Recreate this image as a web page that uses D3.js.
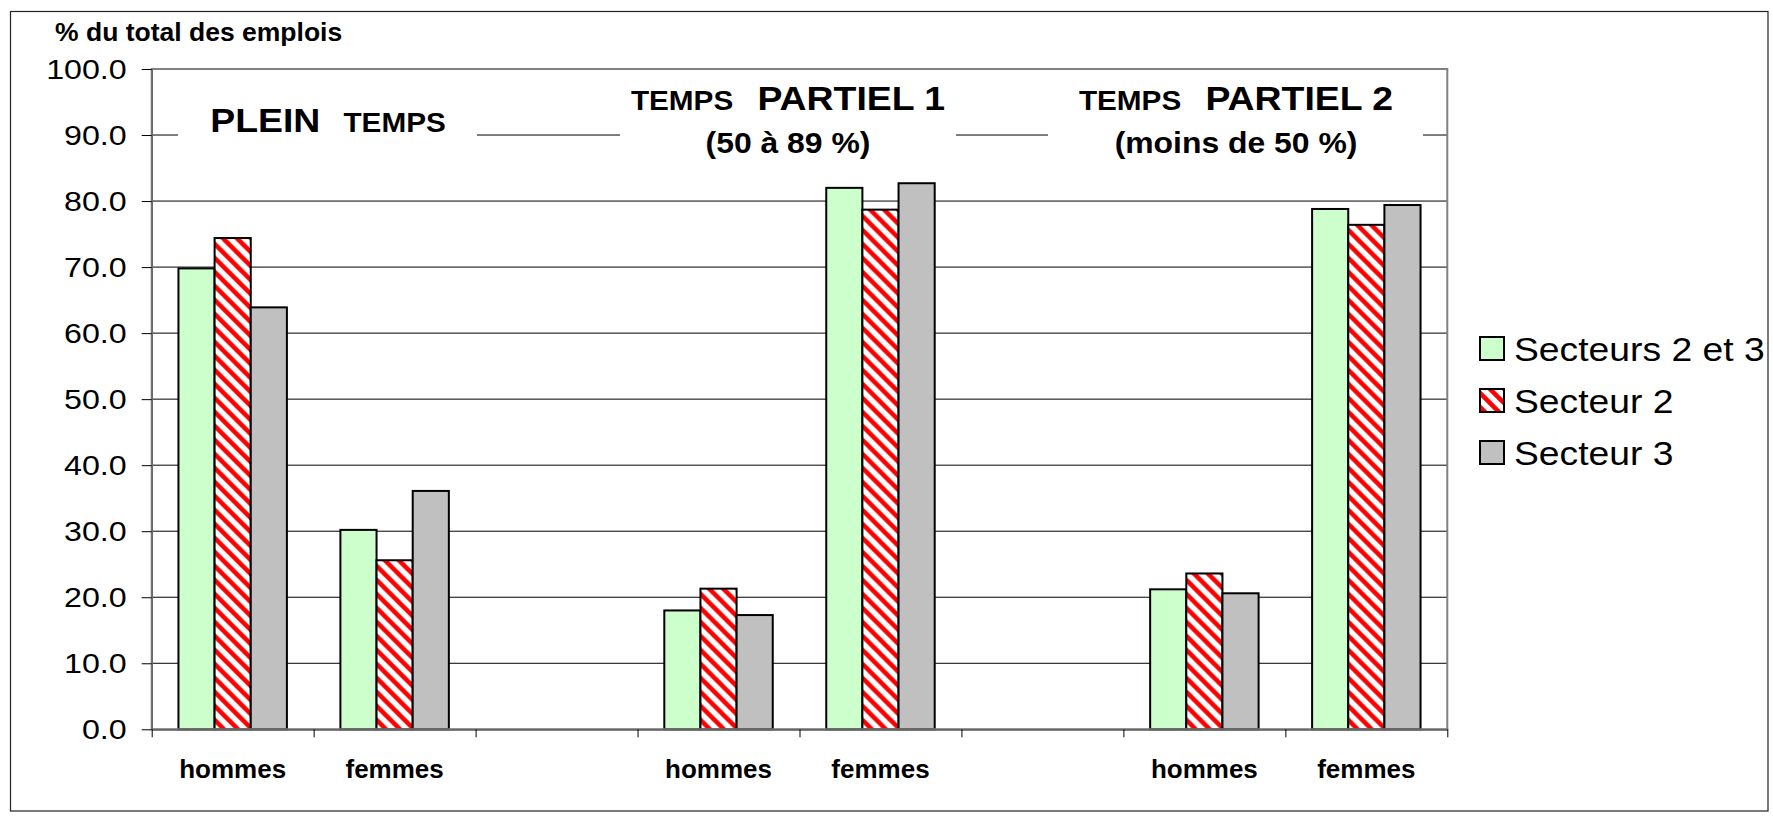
<!DOCTYPE html>
<html>
<head>
<meta charset="utf-8">
<script src="https://cdn.jsdelivr.net/npm/d3@7"></script>
<style>
  body { margin: 0; background: #fff; }
  text { font-family: "Liberation Sans", Arial, sans-serif; fill: #000; }
</style>
</head>
<body>
<div id="wrapper"></div>
<script>
// values (% du total des emplois)
const categories = ["hommes", "femmes", "", "hommes", "femmes", "", "hommes", "femmes"]
const secteurs23 = [69.8, 30.2, null, 18.0, 82.0, null, 21.2, 78.8]
const secteur2 = [74.4, 25.6, null, 21.3, 78.7, null, 23.6, 76.4]
const secteur3 = [63.9, 36.1, null, 17.3, 82.7, null, 20.6, 79.4]
const seriesNames = ["Secteurs 2 et 3", "Secteur 2", "Secteur 3"]
const yTicks = [0, 10, 20, 30, 40, 50, 60, 70, 80, 90, 100]
const gridValues = [10, 20, 30, 40, 50, 60, 70, 80, 90]

// 1. chart dimensions
let dimensions = {
  width: 1773,
  height: 818,
  margin: { top: 69, right: 325.7, bottom: 88.7, left: 151.7 },
}
dimensions.boundedWidth = dimensions.width - dimensions.margin.left - dimensions.margin.right
dimensions.boundedHeight = dimensions.height - dimensions.margin.top - dimensions.margin.bottom

const series = [secteurs23, secteur2, secteur3]
const fills = ["#CCFFCC", "url(#hatch)", "#C0C0C0"]

// 2. scales
const x0 = d3.scaleBand()
  .domain(d3.range(categories.length))
  .range([0, dimensions.boundedWidth])
  .padding(0)

const x1 = d3.scaleBand()
  .domain(d3.range(series.length))
  .range([0, x0.bandwidth()])
  .paddingInner(0)
  .paddingOuter(0.74)

const yScale = d3.scaleLinear()
  .domain([0, 100])
  .range([dimensions.boundedHeight, 0])

// 3. svg
const wrapper = d3.select("#wrapper")
  .append("svg")
    .attr("width", dimensions.width)
    .attr("height", dimensions.height)

const defs = wrapper.append("defs")
const pat = defs.append("pattern")
  .attr("id", "hatch")
  .attr("patternUnits", "userSpaceOnUse")
  .attr("width", 14)
  .attr("height", 14)
pat.append("rect").attr("width", 14).attr("height", 14).attr("fill", "#fff")
pat.append("path")
  .attr("d", "M-2,-2L16,16M-7,7L7,21M7,-7L21,7")
  .attr("stroke", "#FF0000")
  .attr("stroke-width", 4.5)

// outer frame
wrapper.append("rect")
  .attr("x", 10.5).attr("y", 11.5)
  .attr("width", 1757.5).attr("height", 799.5)
  .attr("fill", "none")
  .attr("stroke", "#222")
  .attr("stroke-width", 1.2)

// helper for (slightly widened) text
function addText(parent, str, x, y, size, weight, anchor, sx) {
  return parent.append("text")
    .attr("transform", `translate(${x},${y}) scale(${sx},1)`)
    .attr("text-anchor", anchor)
    .style("font-size", size + "px")
    .style("font-weight", weight)
    .text(str)
}

addText(wrapper, "% du total des emplois", 55, 41, 26, "bold", "start", 1.02)

const bounds = wrapper.append("g")
  .style("transform", `translate(${dimensions.margin.left}px, ${dimensions.margin.top}px)`)

// gridlines
bounds.append("g")
  .selectAll("line")
  .data(gridValues)
  .join("line")
    .attr("x1", 0)
    .attr("x2", dimensions.boundedWidth)
    .attr("y1", d => yScale(d))
    .attr("y2", d => yScale(d))
    .attr("stroke", "#000")
    .attr("stroke-width", 1)

// panel titles (white boxes cut the 90 gridline)
const titleG = bounds.append("g")
const boxes = [
  { x: 178, w: 299, cx: 328, y1: 132, big1: "PLEIN", small1: "TEMPS", smallFirst: false, line2: "" },
  { x: 620, w: 336, cx: 788, y1: 110, big1: "PARTIEL 1", small1: "TEMPS", smallFirst: true, line2: "(50 à 89 %)" },
  { x: 1048, w: 375, cx: 1236, y1: 110, big1: "PARTIEL 2", small1: "TEMPS", smallFirst: true, line2: "(moins de 50 %)" },
]
boxes.forEach(b => {
  titleG.append("rect")
    .attr("x", b.x - dimensions.margin.left)
    .attr("y", 78 - dimensions.margin.top)
    .attr("width", b.w)
    .attr("height", 112)
    .attr("fill", "#fff")
  const t = titleG.append("text")
    .attr("transform", `translate(${b.cx - dimensions.margin.left},${b.y1 - dimensions.margin.top}) scale(1.1,1)`)
    .attr("text-anchor", "middle")
    .style("font-weight", "bold")
  if (b.smallFirst) {
    t.append("tspan").style("font-size", "27px").text(b.small1)
    t.append("tspan").attr("dx", 22).style("font-size", "34px").text(b.big1)
  } else {
    t.append("tspan").style("font-size", "34px").text(b.big1)
    t.append("tspan").attr("dx", 21).style("font-size", "27px").text(b.small1)
  }
  if (b.line2) {
    addText(titleG, b.line2, b.cx - dimensions.margin.left, 153 - dimensions.margin.top, 29, "bold", "middle", 1.1)
  }
})

// bars
const groups = bounds.append("g")
  .selectAll("g")
  .data(categories.map((c, i) => i))
  .join("g")
    .attr("transform", i => `translate(${x0(i)},0)`)

groups.selectAll("rect")
  .data(i => series.map((s, k) => ({ k, v: s[i] })).filter(d => d.v != null))
  .join("rect")
    .attr("x", d => x1(d.k))
    .attr("width", x1.bandwidth())
    .attr("y", d => yScale(d.v))
    .attr("height", d => yScale(0) - yScale(d.v))
    .attr("fill", d => fills[d.k])
    .attr("stroke", "#000")
    .attr("stroke-width", 2)

// plot frame
bounds.append("rect")
  .attr("x", 0).attr("y", 0)
  .attr("width", dimensions.boundedWidth)
  .attr("height", dimensions.boundedHeight)
  .attr("fill", "none")
  .attr("stroke", "#808080")
  .attr("stroke-width", 2)

// y axis
const yAxis = d3.axisLeft(yScale).tickValues(yTicks).tickSize(10).tickSizeOuter(0).tickFormat("")
const yAxisG = bounds.append("g").call(yAxis)
yAxisG.select(".domain").attr("stroke", "#666").attr("stroke-width", 1.5)
yAxisG.selectAll(".tick line").attr("stroke", "#000")
yTicks.forEach(v => {
  addText(bounds, d3.format(".1f")(v), -25, yScale(v) + 10, 28, "normal", "end", 1.15)
})

// x axis, ticks on category boundaries
const xEdge = d3.scaleLinear().domain([0, categories.length]).range([0, dimensions.boundedWidth])
const xAxis = d3.axisBottom(xEdge).tickValues(d3.range(categories.length + 1)).tickSize(8).tickSizeOuter(0).tickFormat("")
const xAxisG = bounds.append("g")
  .attr("transform", `translate(0,${dimensions.boundedHeight})`)
  .call(xAxis)
xAxisG.select(".domain").attr("stroke", "#666").attr("stroke-width", 2)
xAxisG.selectAll(".tick line").attr("stroke", "#000")

categories.forEach((c, i) => {
  if (c) addText(bounds, c, x0(i) + x0.bandwidth() / 2, 778.3 - dimensions.margin.top, 25, "bold", "middle", 1.04)
})

// legend
const legend = wrapper.append("g").attr("transform", "translate(1480,337)")
seriesNames.forEach((name, k) => {
  legend.append("rect")
    .attr("x", 0).attr("y", k * 52)
    .attr("width", 24).attr("height", 23)
    .attr("fill", fills[k])
    .attr("stroke", "#000")
    .attr("stroke-width", 2)
  addText(legend, name, 34, k * 52 + 23.5, 33, "normal", "start", 1.13)
})
</script>
</body>
</html>
